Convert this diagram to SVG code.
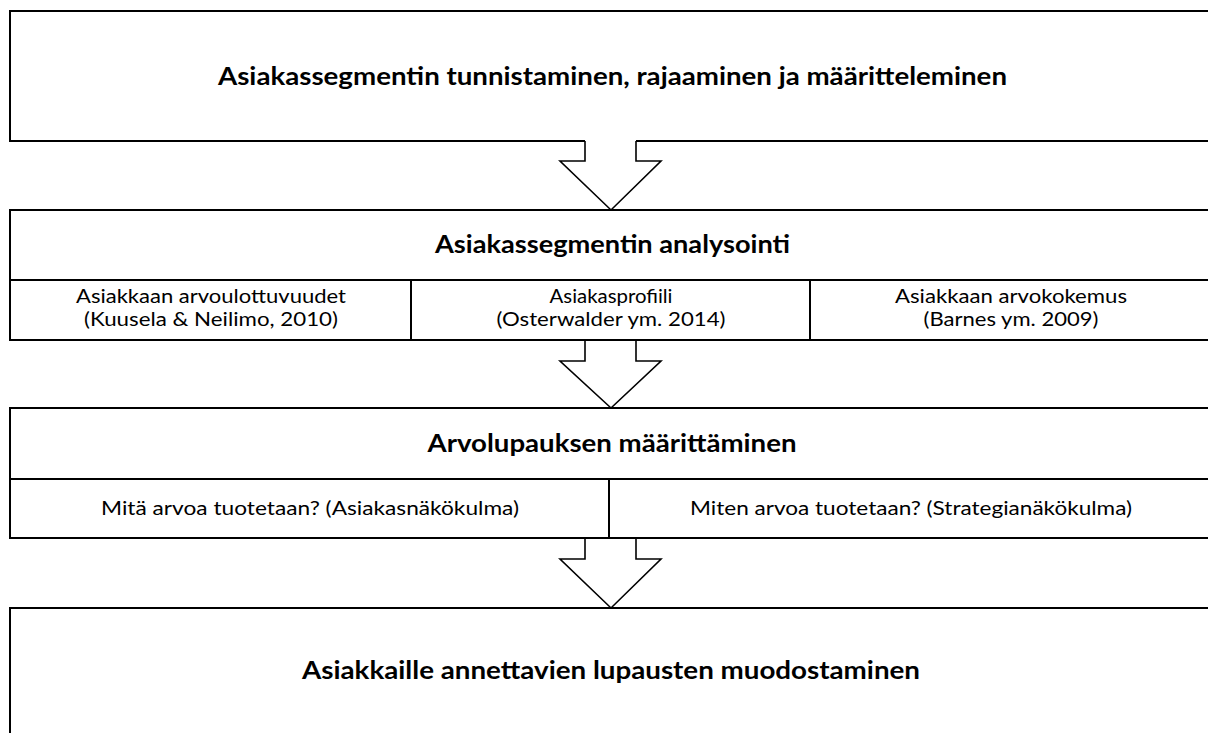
<svg xmlns="http://www.w3.org/2000/svg" width="1208" height="733" viewBox="0 0 1208 733">
<style>
.box{fill:#fff;stroke:#000;stroke-width:2}
.div{stroke:#000;stroke-width:2;fill:none}
.arrfill{fill:#fff;stroke:none}
.arr{fill:none;stroke:#000;stroke-width:1.6;stroke-linejoin:miter}
.h{font-family:Lato,"Liberation Sans",sans-serif;font-weight:bold;font-size:24px;fill:#000;text-anchor:middle}
.t{font-family:Lato,"Liberation Sans",sans-serif;font-size:19.5px;fill:#000;text-anchor:middle}
</style>
<rect width="1208" height="733" fill="#fff"/>
<g id="box1">
<rect class="box" x="10" y="11" width="1202" height="130"/>
<text class="h" x="612.5" y="85" textLength="789" lengthAdjust="spacingAndGlyphs">Asiakassegmentin tunnistaminen, rajaaminen ja määritteleminen</text>
</g>
<g id="box2">
<rect class="box" x="10" y="210" width="1202" height="130"/>
<line class="div" x1="10" y1="280" x2="1212" y2="280"/>
<line class="div" x1="411" y1="280" x2="411" y2="340"/>
<line class="div" x1="810" y1="280" x2="810" y2="340"/>
<text class="h" x="612.5" y="253" textLength="355" lengthAdjust="spacingAndGlyphs">Asiakassegmentin analysointi</text>
<text class="t" x="211" y="303" textLength="270" lengthAdjust="spacingAndGlyphs">Asiakkaan arvoulottuvuudet</text>
<text class="t" x="211" y="326" textLength="254" lengthAdjust="spacingAndGlyphs">(Kuusela &amp; Neilimo, 2010)</text>
<text class="t" x="611" y="303" textLength="123" lengthAdjust="spacingAndGlyphs">Asiakasprofiili</text>
<text class="t" x="611" y="326" textLength="229" lengthAdjust="spacingAndGlyphs">(Osterwalder ym. 2014)</text>
<text class="t" x="1011" y="303" textLength="232" lengthAdjust="spacingAndGlyphs">Asiakkaan arvokokemus</text>
<text class="t" x="1011" y="326" textLength="175" lengthAdjust="spacingAndGlyphs">(Barnes ym. 2009)</text>
</g>
<g id="box3">
<rect class="box" x="10" y="408" width="1202" height="130"/>
<line class="div" x1="10" y1="479" x2="1212" y2="479"/>
<line class="div" x1="609" y1="479" x2="609" y2="538"/>
<text class="h" x="612" y="452" textLength="369" lengthAdjust="spacingAndGlyphs">Arvolupauksen määrittäminen</text>
<text class="t" x="310" y="515" textLength="418" lengthAdjust="spacingAndGlyphs">Mitä arvoa tuotetaan? (Asiakasnäkökulma)</text>
<text class="t" x="911" y="515" textLength="442" lengthAdjust="spacingAndGlyphs">Miten arvoa tuotetaan? (Strategianäkökulma)</text>
</g>
<g id="box4">
<rect class="box" x="10" y="608" width="1202" height="135"/>
<text class="h" x="611" y="679" textLength="618" lengthAdjust="spacingAndGlyphs">Asiakkaille annettavien lupausten muodostaminen</text>
</g>
<g id="connectors">
<polygon class="arrfill" points="585,140 636,140 636,161 661,161 611,210 560,161 585,161"/>
<polyline class="arr" points="585,141 585,161 560,161 611,210 661,161 636,161 636,141"/>
<polyline class="arr" points="585,340 585,361 560,361 611,408 661,361 636,361 636,340"/>
<polyline class="arr" points="585,538 585,559 560,559 611,608 661,559 636,559 636,538"/>
</g>
</svg>
